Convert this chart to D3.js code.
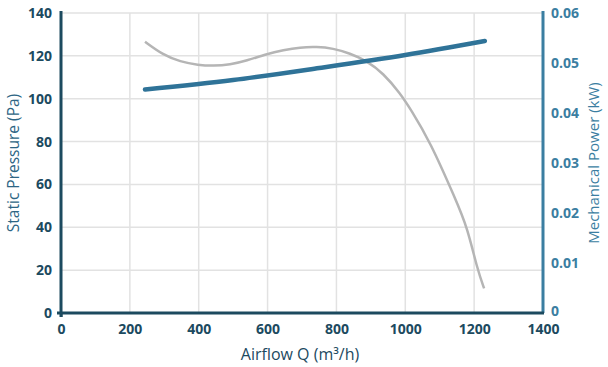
<!DOCTYPE html>
<html>
<head>
<meta charset="utf-8">
<script src="https://cdn.jsdelivr.net/npm/d3@7"></script>
<style>
  html, body { margin: 0; padding: 0; background: #fff; }
  svg { display: block; font-family: "Open Sans", sans-serif; }
</style>
</head>
<body>
<svg id="chart" width="608" height="367"></svg>
<script>
// Fan curve: static pressure and mechanical power versus airflow
const pressureQ  = [244, 297, 346, 399, 442, 491, 539, 597, 646, 694, 743, 790, 839, 888, 936, 985, 1014, 1072, 1147, 1180, 1210, 1229];
const pressurePa = [126.6, 120.4, 117.3, 115.7, 115.3, 115.9, 117.7, 120.9, 122.7, 124.0, 124.3, 123.5, 121.2, 117.7, 111.9, 102.5, 95.5, 80, 52.7, 40, 20, 11.5];

const powerQ  = [244, 500, 750, 1000, 1231];
const powerKW = [0.0447, 0.0466, 0.0490, 0.0516, 0.0544];

const xTicks = [0, 200, 400, 600, 800, 1000, 1200, 1400];
const yLeftTicks = [0, 20, 40, 60, 80, 100, 120, 140];
const yRightTicks = [0, 0.01, 0.02, 0.03, 0.04, 0.05, 0.06];

const dark = "#1c4a5f";
const blue = "#3b7ea1";
const lineBlue = "#2f7398";
const gray = "#b5b5b5";
const grid = "#e2e2e2";

const svg = d3.select("#chart");
const m = { left: 61, right: 543, top: 13, bottom: 313 };

const x = d3.scaleLinear().domain([0, 1400]).range([m.left, m.right]);
const yL = d3.scaleLinear().domain([0, 140]).range([m.bottom, m.top]);
const yR = d3.scaleLinear().domain([0, 0.06]).range([m.bottom, m.top]);

// grid
svg.append("g").selectAll("line").data(yLeftTicks.filter(d => d > 0)).join("line")
  .attr("x1", m.left).attr("x2", m.right)
  .attr("y1", d => yL(d)).attr("y2", d => yL(d))
  .attr("stroke", grid).attr("stroke-width", 1.5);
svg.append("g").selectAll("line").data(xTicks.filter(d => d > 0 && d < 1400)).join("line")
  .attr("x1", d => x(d)).attr("x2", d => x(d))
  .attr("y1", m.top).attr("y2", m.bottom)
  .attr("stroke", grid).attr("stroke-width", 1.5);

// curves
const pressureLine = d3.line().x(d => x(d[0])).y(d => yL(d[1])).curve(d3.curveBasis);
svg.append("path")
  .attr("d", pressureLine(pressureQ.map((q, i) => [q, pressurePa[i]])))
  .attr("fill", "none").attr("stroke", gray).attr("stroke-width", 2.5);

const powerLine = d3.line().x(d => x(d[0])).y(d => yR(d[1])).curve(d3.curveMonotoneX);
svg.append("path")
  .attr("d", powerLine(powerQ.map((q, i) => [q, powerKW[i]])))
  .attr("fill", "none").attr("stroke", lineBlue).attr("stroke-width", 4.5)
  .attr("stroke-linecap", "round");

// axes
const xAxis = d3.axisBottom(x).tickValues(xTicks).tickSize(4).tickPadding(7).tickFormat(d3.format("d"));
const gx = svg.append("g").attr("transform", `translate(0,${m.bottom})`).call(xAxis);
gx.select(".domain").remove();
gx.selectAll(".tick line").attr("stroke", dark).attr("stroke-width", 2);
gx.selectAll(".tick line").filter(d => d !== 0).remove();
gx.selectAll("text").attr("fill", dark).style("font-size", "14px").style("font-weight", "700")
  .style("font-family", "'Open Sans', sans-serif");

const yAxisL = d3.axisLeft(yL).tickValues(yLeftTicks).tickSize(0).tickPadding(9);
const gyl = svg.append("g").attr("transform", `translate(${m.left},0)`).call(yAxisL);
gyl.select(".domain").remove();
gyl.selectAll("text").attr("fill", dark).style("font-size", "14px").style("font-weight", "700")
  .style("font-family", "'Open Sans', sans-serif");

const yAxisR = d3.axisRight(yR).tickValues(yRightTicks).tickSize(0).tickPadding(8)
  .tickFormat(d => d === 0 ? "0" : d3.format(".2f")(d));
const gyr = svg.append("g").attr("transform", `translate(${m.right},0)`).call(yAxisR);
gyr.select(".domain").remove();
gyr.selectAll("text").attr("fill", blue).style("font-size", "14px").style("font-weight", "700")
  .style("font-family", "'Open Sans', sans-serif");
gyr.selectAll("text").filter(d => d === 0).attr("dy", "0.2em");

// axis lines
svg.append("line").attr("x1", m.right).attr("x2", m.right).attr("y1", m.top - 2).attr("y2", m.bottom)
  .attr("stroke", blue).attr("stroke-width", 3);
svg.append("line").attr("x1", m.left).attr("x2", m.left).attr("y1", m.top - 2).attr("y2", m.bottom + 4)
  .attr("stroke", dark).attr("stroke-width", 3);
svg.append("line").attr("x1", m.left - 4).attr("x2", m.right + 1).attr("y1", m.bottom).attr("y2", m.bottom)
  .attr("stroke", dark).attr("stroke-width", 3);

// titles
svg.append("text").attr("x", 300).attr("y", 360).attr("text-anchor", "middle")
  .attr("fill", dark).style("font-size", "16px")
  .text("Airflow Q (m³/h)");
svg.append("text").attr("transform", `translate(19,${(m.top + m.bottom) / 2}) rotate(-90)`)
  .attr("text-anchor", "middle").attr("fill", "#2d6584").style("font-size", "15.5px")
  .text("Static Pressure (Pa)");
svg.append("text").attr("transform", `translate(599,${(m.top + m.bottom) / 2}) rotate(-90)`)
  .attr("text-anchor", "middle").attr("fill", blue).style("font-size", "15px")
  .text("Mechanical Power (kW)");
</script>
</body>
</html>
